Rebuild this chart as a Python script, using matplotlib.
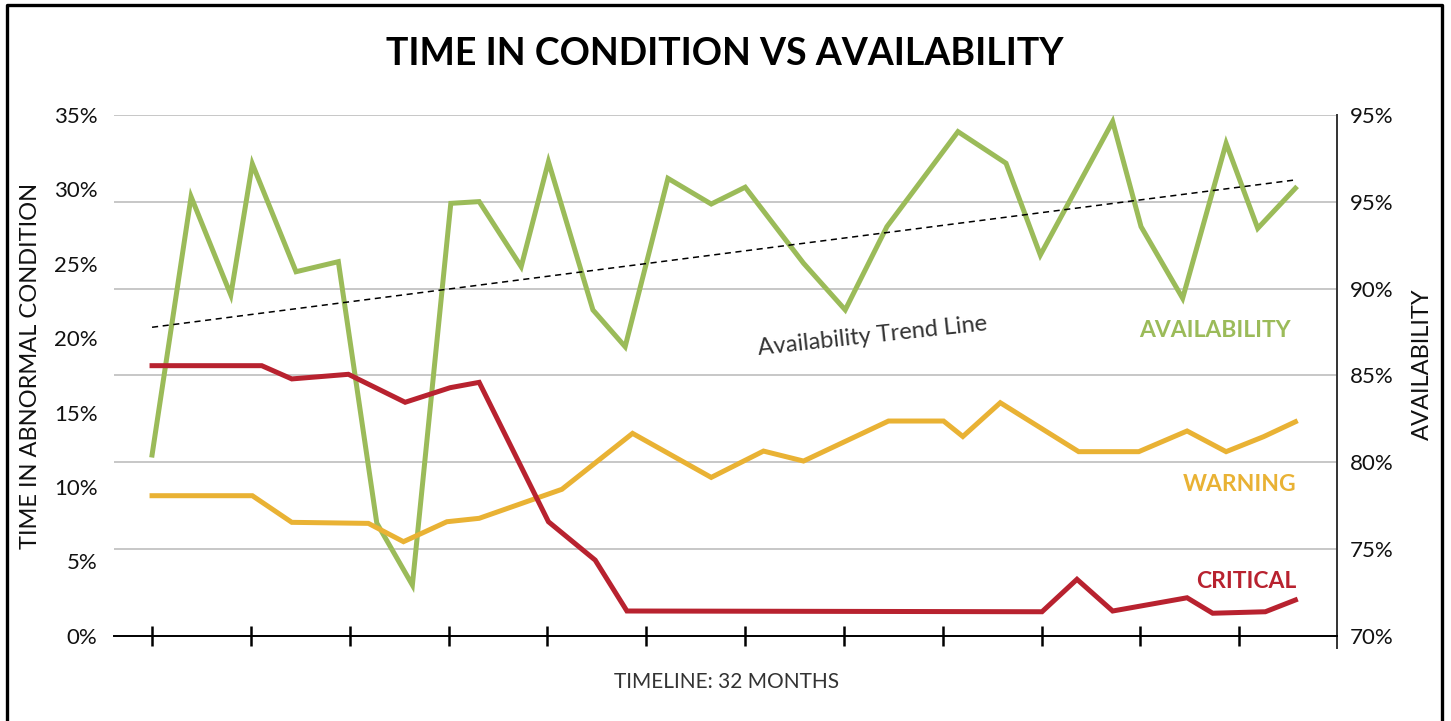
import matplotlib
matplotlib.use("Agg")
import matplotlib.pyplot as plt
from matplotlib.lines import Line2D

plt.rcParams['font.family'] = ['Lato', 'DejaVu Sans']

# x positions in tick units (ticks at 0..11)
avail_x = [0, 0.395, 0.797, 1.015, 1.457, 1.885, 2.274, 2.634, 3.023, 3.310,
           3.735, 4.011, 4.461, 4.787, 5.220, 5.658, 6.002, 6.592, 7.014, 7.436,
           8.155, 8.641, 8.988, 9.720, 10.007, 10.428, 10.868, 11.188, 11.569]
avail = [80.41, 95.29, 89.63, 97.18, 90.97, 91.55, 76.49, 72.92, 94.91, 95.01,
         91.26, 97.31, 88.77, 86.65, 96.35, 94.87, 95.84, 91.46, 88.77, 93.57,
         99.04, 97.22, 91.93, 99.62, 93.57, 89.44, 98.37, 93.47, 95.78]

trend_x = [0, 11.569]
trend = [87.77, 96.26]

crit_x = [0, 1.110, 1.414, 1.987, 2.561, 3.016, 3.310, 4.011, 4.484, 4.805,
          9.005, 9.359, 9.720, 10.473, 10.732, 11.265, 11.569]
critical = [18.15, 18.15, 17.26, 17.57, 15.69, 16.67, 17.03, 7.66, 5.08, 1.66,
            1.61, 3.79, 1.66, 2.55, 1.51, 1.61, 2.40]

warn_x = [0, 1.015, 1.414, 2.189, 2.544, 2.983, 3.310, 4.147, 4.862, 5.658,
          6.187, 6.592, 7.452, 8.009, 8.204, 8.583, 9.376, 9.984, 10.473, 10.868,
          11.248, 11.569]
warning = [9.41, 9.41, 7.62, 7.55, 6.32, 7.66, 7.89, 9.84, 13.60, 10.64,
           12.41, 11.74, 14.43, 14.43, 13.39, 15.66, 12.37, 12.37, 13.76, 12.37,
           13.38, 14.38]

left_ticks = [0, 5, 10, 15, 20, 25, 30, 35]
left_labels = ['0%', '5%', '10%', '15%', '20%', '25%', '30%', '35%']
right_ticks = [70, 75, 80, 85, 90, 95, 100]
right_labels = ['70%', '75%', '80%', '85%', '90%', '95%', '95%']

GREEN = '#9bbb59'
YELLOW = '#e9b234'
RED = '#b8222f'

W, H = 1451, 721
fig = plt.figure(figsize=(W / 100, H / 100), dpi=100)
ax = fig.add_axes([114 / W, 1 - 635.7 / H, (1337 - 114) / W, (635.7 - 115) / H])
ax2 = ax.twinx()
ax.set_zorder(ax2.get_zorder() + 1)
ax.patch.set_visible(False)

# availability on the right axis
ax2.plot(avail_x, avail, color=GREEN, lw=3.6, solid_joinstyle='miter')
ax2.plot(trend_x, trend, color='black', lw=1.1, ls=(0, (4, 3)))
ax2.set_ylim(70, 100)
ax2.set_yticks(right_ticks)
ax2.set_yticklabels(right_labels)
ax2.yaxis.grid(True, color='#bdbdbd', lw=1.2)
ax2.set_axisbelow(True)
for s in ['top', 'left', 'bottom']:
    ax2.spines[s].set_visible(False)
ax2.spines['right'].set_color('#333333')
ax2.spines['right'].set_linewidth(1.4)
ax2.spines['right'].set_bounds(69.3, 100)
ax2.tick_params(axis='y', length=0, pad=9, labelsize=16, labelcolor='#111111')

# time in condition on the left axis
ax.plot(warn_x, warning, color=YELLOW, lw=3.6, solid_joinstyle='miter')
ax.plot(crit_x, critical, color=RED, lw=3.6, solid_joinstyle='miter')
ax.set_ylim(0, 35)
ax.set_xlim(-0.385, 11.99)
ax.set_yticks(left_ticks)
ax.set_yticklabels(left_labels)
ax.set_xticks(range(12))
ax.set_xticklabels([])
for s in ['top', 'left', 'right']:
    ax.spines[s].set_visible(False)
ax.spines['bottom'].set_linewidth(1.4)
ax.tick_params(axis='y', length=0, pad=12, labelsize=16, labelcolor='#111111')
ax.tick_params(axis='x', direction='inout', length=14, width=1.8, color='black')

# series labels
ax.text(0.962, 0.574, 'AVAILABILITY', transform=ax.transAxes, color=GREEN,
        fontsize=16.5, fontweight='bold', ha='right', va='baseline')
ax.text(0.9665, 0.277, 'WARNING', transform=ax.transAxes, color=YELLOW,
        fontsize=16.5, fontweight='bold', ha='right', va='baseline')
ax.text(0.9665, 0.091, 'CRITICAL', transform=ax.transAxes, color=RED,
        fontsize=16.5, fontweight='bold', ha='right', va='baseline')
fig.text(873 / W, 1 - 336 / H, 'Availability Trend Line', color='#333333',
         fontsize=17, rotation=6.2, ha='center', va='center',
         rotation_mode='anchor')

# titles and axis labels
fig.text(725 / W, 1 - 65 / H, 'TIME IN CONDITION VS AVAILABILITY', ha='center',
         va='baseline', fontsize=27, fontweight='bold', color='black')
fig.text(31 / W, 1 - 366 / H, 'TIME IN ABNORMAL CONDITION', rotation=90,
         ha='center', va='center', fontsize=17, color='#111111')
fig.text(1422 / W, 1 - 364 / H, 'AVAILABILITY', rotation=90,
         ha='center', va='center', fontsize=17, color='#111111')
fig.text(727 / W, 1 - 688 / H, 'TIMELINE: 32 MONTHS', ha='center',
         va='baseline', fontsize=15, color='#333333')

# frame around the figure
x0, x1, yt = 7 / W, 1442 / W, 1 - 4.5 / H
fig.add_artist(Line2D([x0, x0, x1, x1], [-0.01, yt, yt, -0.01],
                      transform=fig.transFigure, color='black', lw=2.4))

fig.savefig('out.png', dpi=100)
